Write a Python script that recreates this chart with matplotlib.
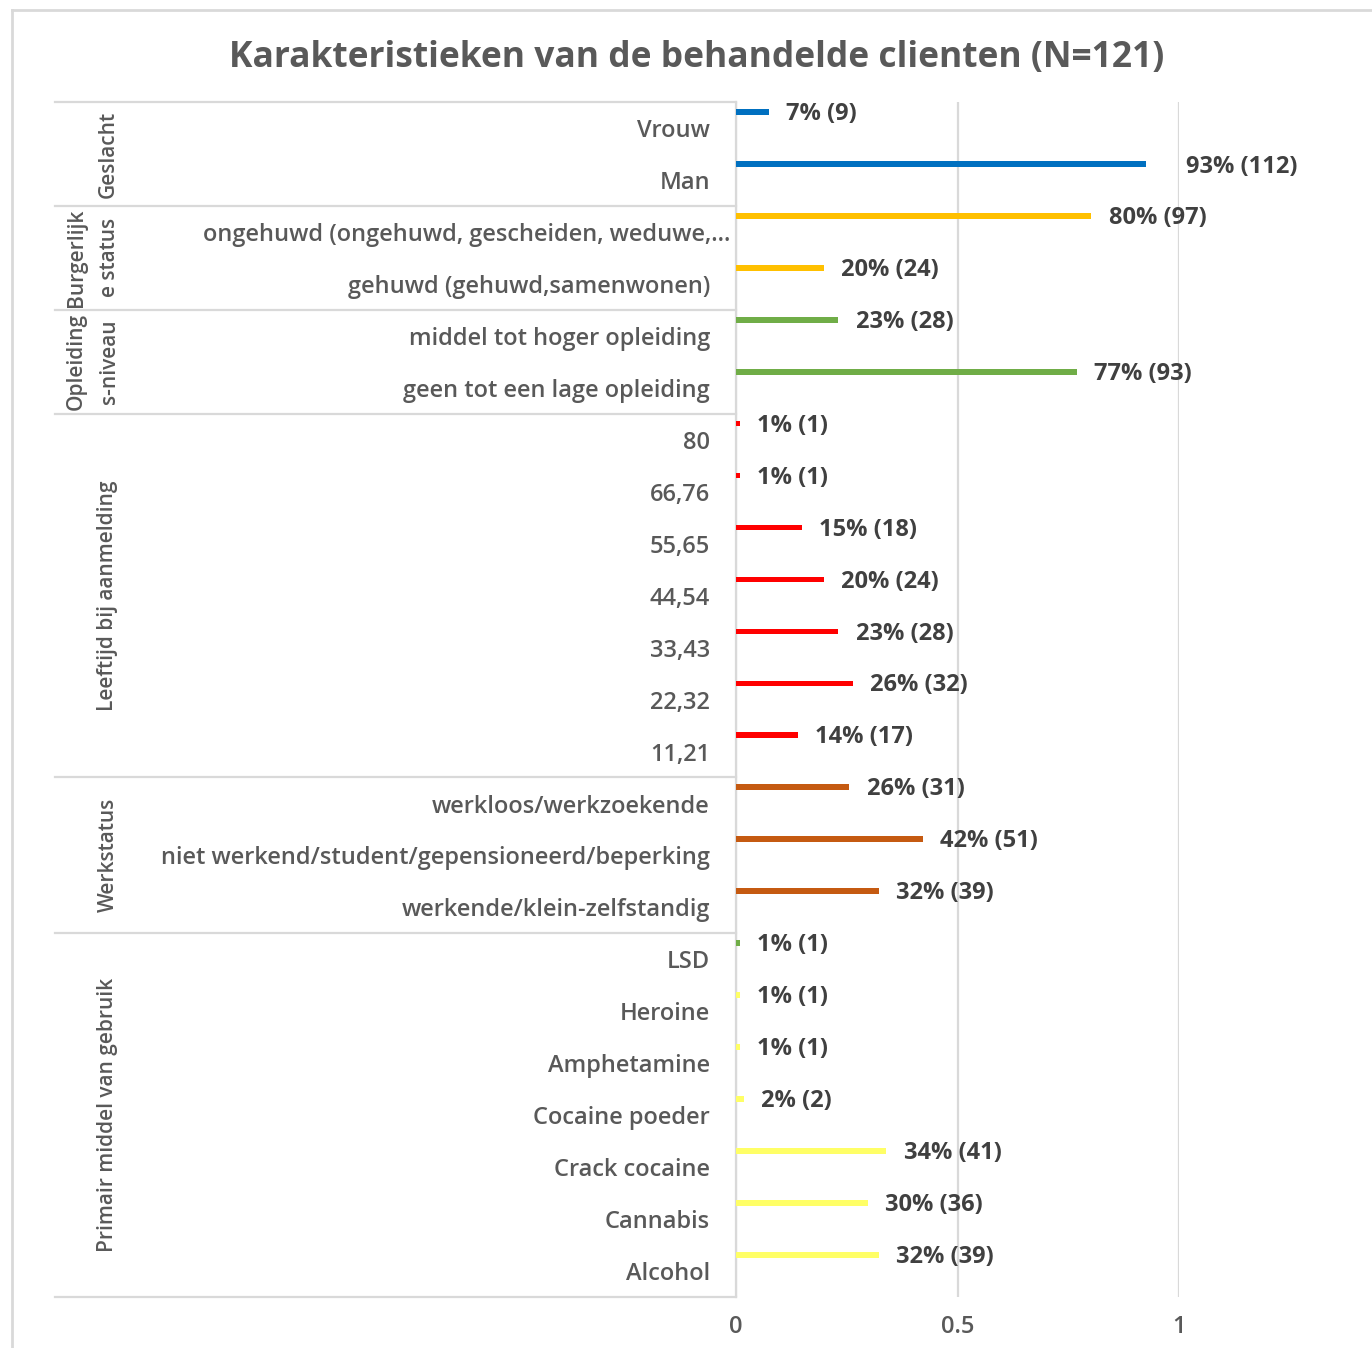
import matplotlib
matplotlib.use("Agg")
import matplotlib.pyplot as plt
from matplotlib.lines import Line2D
from matplotlib.transforms import blended_transform_factory

# ---------------- data ----------------
title = "Karakteristieken van de behandelde clienten (N=121)"

groups = ["Geslacht", "Burgerlijk\ne status", "Opleiding\ns-niveau",
          "Leeftijd bij aanmelding", "Werkstatus", "Primair middel van gebruik"]
group_sizes = [2, 2, 2, 7, 3, 7]

categories = [
    "Vrouw", "Man",
    "ongehuwd (ongehuwd, gescheiden, weduwe,...", "gehuwd (gehuwd,samenwonen)",
    "middel tot hoger opleiding", "geen tot een lage opleiding",
    "80", "66,76", "55,65", "44,54", "33,43", "22,32", "11,21",
    "werkloos/werkzoekende", "niet werkend/student/gepensioneerd/beperking",
    "werkende/klein-zelfstandig",
    "LSD", "Heroine", "Amphetamine", "Cocaine poeder", "Crack cocaine",
    "Cannabis", "Alcohol",
]
shares = [0.074, 0.926,
          0.802, 0.198,
          0.231, 0.769,
          0.008, 0.008, 0.149, 0.198, 0.231, 0.264, 0.140,
          0.256, 0.421, 0.322,
          0.008, 0.008, 0.008, 0.017, 0.339, 0.298, 0.322]
counts = [9, 112,
          97, 24,
          28, 93,
          1, 1, 18, 24, 28, 32, 17,
          31, 51, 39,
          1, 1, 1, 2, 41, 36, 39]
bar_colors = ["#0070C0"] * 2 + ["#FFC000"] * 2 + ["#70AD47"] * 2 + \
             ["#FF0000"] * 7 + ["#C55A11"] * 3 + ["#70AD47"] + ["#FFFF66"] * 6
x_ticks = [0, 0.5, 1]
x_tick_labels = ["0", "0.5", "1"]

# ---------------- figure ----------------
W, H = 1372, 1348
fig = plt.figure(figsize=(W / 100, H / 100), dpi=100)
fig.patch.set_facecolor("white")

font = ["Open Sans", "DejaVu Sans"]
txt_col = "#595959"
lbl_col = "#404040"
grid_col = "#D9D9D9"

ax_l, ax_r, ax_t, ax_b = 736, 1179, 102, 1297
ax = fig.add_axes([ax_l / W, 1 - ax_b / H, (ax_r - ax_l) / W, (ax_b - ax_t) / H])

n = len(categories)
ypos = [i - 0.31 for i in range(n)]
ax.barh(ypos, shares, height=0.11, color=bar_colors, zorder=3)

ax.set_xlim(0, 1)
ax.set_ylim(n - 0.5, -0.5)

for s in ["top", "right", "bottom"]:
    ax.spines[s].set_visible(False)
ax.spines["left"].set_color(grid_col)
ax.spines["left"].set_linewidth(1.6)

ax.set_xticks(x_ticks)
ax.set_xticklabels(x_tick_labels, family=font, fontsize=17, color=txt_col,
                   fontweight="semibold")
ax.tick_params(axis="x", length=0, pad=13)
ax.set_yticks([])
ax.xaxis.grid(True, color=grid_col, linewidth=1.6, zorder=0)
ax.set_axisbelow(True)

# data labels
for i, (s, c) in enumerate(zip(shares, counts)):
    gap = 29 if categories[i] == "Man" else 12.5
    yy = ypos[i] + 0.04 + (0.02 if categories[i] == "Man" else 0)
    ax.annotate(f"{round(s * 100):.0f}% ({c})", xy=(s, yy), xytext=(gap, 0),
                textcoords="offset points", ha="left", va="center",
                family=font, fontsize=17, fontweight="bold", color=lbl_col,
                annotation_clip=False)

# category labels
bt = blended_transform_factory(fig.transFigure, ax.transData)
for i, cat in enumerate(categories):
    xr = 730 if cat.endswith("...") else 710
    fig.text(xr / W, i + 0.06, cat, transform=bt, ha="right", va="center",
             family=font, fontsize=17, color=txt_col, fontweight="semibold")

# group separators and labels
start = 0
bounds = [-0.5]
for g, size in zip(groups, group_sizes):
    end = start + size
    bounds.append(end - 0.5)
    center = (start - 0.5 + end - 0.5) / 2
    xg = 93 if "\n" in g else 108
    fig.text(xg / W, center, g, transform=bt, rotation=90, ha="center",
             va="center", multialignment="center", family=font, fontsize=15,
             color=txt_col, fontweight="semibold", linespacing=1.75)
    start = end
for b in bounds:
    fig.add_artist(Line2D([55 / W, ax_l / W], [b, b], transform=bt,
                          color=grid_col, linewidth=1.6))

# title
fig.text(697 / W, 1 - 58 / H, title, ha="center", va="center", family=font,
         fontsize=25.5, fontweight="bold", color=txt_col)

# outer chart border (top and left)
fig.add_artist(Line2D([11.5 / W, 1.0], [1 - 10 / H, 1 - 10 / H],
                      transform=fig.transFigure, color=grid_col, linewidth=2))
fig.add_artist(Line2D([11.5 / W, 11.5 / W], [0, 1 - 10 / H],
                      transform=fig.transFigure, color=grid_col, linewidth=2))

fig.savefig("out.png", dpi=100, facecolor="white")
